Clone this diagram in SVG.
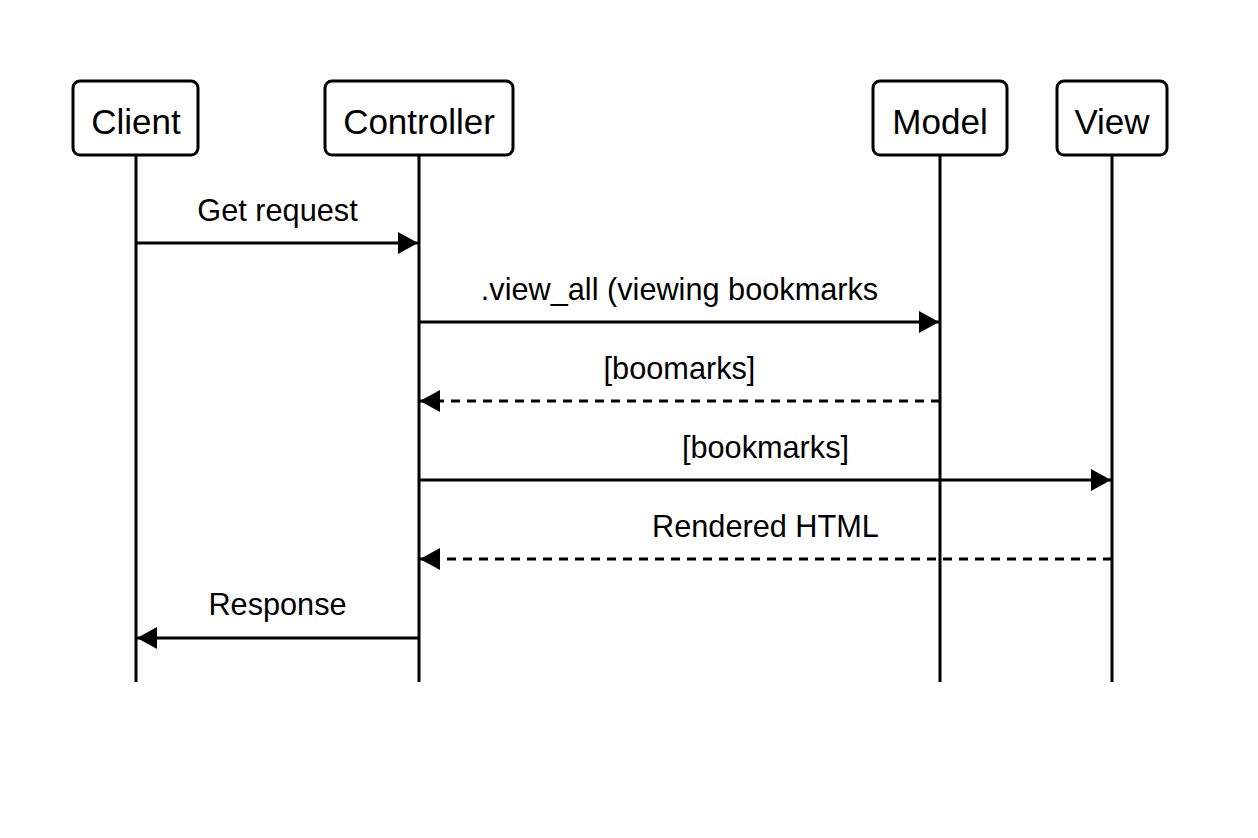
<svg xmlns="http://www.w3.org/2000/svg" width="1258" height="838" viewBox="0 0 1258 838">
<defs>
<style>
.box{fill:#fff;stroke:#000;stroke-width:3}
.life{stroke:#000;stroke-width:3;fill:none}
.msg{stroke:#000;stroke-width:3;fill:none}
.dash{stroke-dasharray:9 7}
.nt{font-family:"Liberation Sans",Arial,sans-serif;font-size:35px;text-anchor:middle;fill:#000}
.lt{font-family:"Liberation Sans",Arial,sans-serif;font-size:30.7px;text-anchor:middle;fill:#000}
</style>
<marker id="ah" viewBox="0 0 20 22" refX="20" refY="11" markerWidth="20" markerHeight="22" markerUnits="userSpaceOnUse" orient="auto">
<path d="M0,0 L20,11 L0,22 Z" fill="#000"/>
</marker>
</defs>
<rect width="1258" height="838" fill="#fff"/>
<g id="lifelines">
<line class="life" x1="136" y1="155" x2="136" y2="682"/>
<line class="life" x1="419" y1="155" x2="419" y2="682"/>
<line class="life" x1="940" y1="155" x2="940" y2="682"/>
<line class="life" x1="1112" y1="155" x2="1112" y2="682"/>
</g>
<g id="client"><rect class="box" x="73" y="81" width="125" height="74" rx="7"/><text class="nt" x="136" y="134">Client</text></g>
<g id="controller"><rect class="box" x="325" y="81" width="188" height="74" rx="7"/><text class="nt" x="419" y="134">Controller</text></g>
<g id="model"><rect class="box" x="873" y="81" width="134" height="74" rx="7"/><text class="nt" x="940" y="134">Model</text></g>
<g id="view"><rect class="box" x="1057" y="81" width="110" height="74" rx="7"/><text class="nt" x="1112" y="134">View</text></g>
<g id="connectors">
<line class="msg" x1="136" y1="243" x2="418" y2="243" marker-end="url(#ah)"/>
<text class="lt" x="277.5" y="221">Get request</text>
<line class="msg" x1="419" y1="322" x2="939" y2="322" marker-end="url(#ah)"/>
<text class="lt" x="679.5" y="300">.view_all (viewing bookmarks</text>
<line class="msg dash" x1="940" y1="401" x2="420" y2="401" marker-end="url(#ah)"/>
<text class="lt" x="679.5" y="379">[boomarks]</text>
<line class="msg" x1="419" y1="480" x2="1111" y2="480" marker-end="url(#ah)"/>
<text class="lt" x="765.5" y="458">[bookmarks]</text>
<line class="msg dash" x1="1112" y1="559" x2="420" y2="559" marker-end="url(#ah)"/>
<text class="lt" x="765.5" y="537">Rendered HTML</text>
<line class="msg" x1="419" y1="638" x2="137" y2="638" marker-end="url(#ah)"/>
<text class="lt" x="277.5" y="615">Response</text>
</g>
</svg>
